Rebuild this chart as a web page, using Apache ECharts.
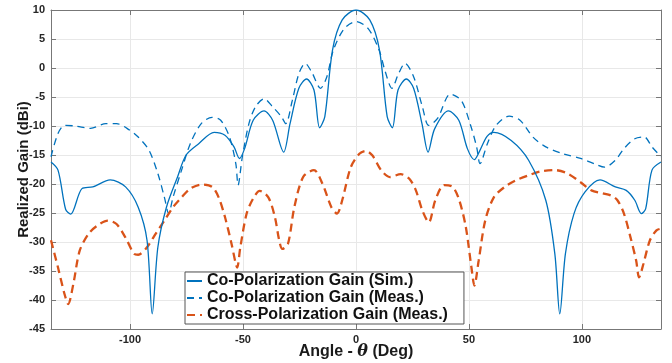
<!DOCTYPE html>
<html><head><meta charset="utf-8">
<script src="https://cdn.jsdelivr.net/npm/echarts@6/dist/echarts.min.js"></script>
<style>html,body{margin:0;padding:0;background:#fff}#c{width:672px;height:363px}</style>
</head><body><div id="c"></div>
<script>
const simAngles = [-135,-131.9,-128.5,-126.3,-121.3,-116.5,-108.8,-102,-96.4,-92.5,-90.2,-87.7,-83.9,-79,-75.2,-69.5,-62.8,-58,-54,-51.6,-49.3,-45.5,-40.7,-36.9,-32,-29.2,-25.3,-21.9,-18.6,-16.1,-13.8,-10.4,-6.1,0,6.1,10.4,13.8,16.1,18.6,22.3,25.5,29.2,31.9,34.8,40.9,45.5,49.3,52.4,54.5,58,61,68.7,76.4,84,88,90.2,92.7,96.5,101.3,108,114.8,119.6,123.4,126.3,128.2,131,135];
const simGain = [-16.2,-17.6,-24.4,-25.2,-20.8,-20.5,-19.3,-20.5,-24,-29.7,-42.4,-30.9,-24,-18.8,-15,-13,-11.1,-11.6,-13.6,-15.6,-13.9,-9,-7.4,-9,-14.5,-9.6,-3.5,-1.9,-3.8,-10.3,-8.4,3.1,8.3,10,8.3,3.1,-8.4,-10.3,-3.8,-1.9,-3.5,-9.6,-14.5,-10.5,-7.4,-9,-13.9,-15.8,-14.5,-11.8,-11.1,-12.5,-15.9,-22.8,-32,-42.4,-32,-25.1,-21.4,-19.3,-20.5,-21.1,-22.8,-25.1,-24.3,-17.6,-16.2];

const measAngles = [-135,-131.9,-129,-124.2,-117.5,-110.7,-106,-100.2,-96.4,-91.6,-87.7,-84.8,-82.9,-81,-77.2,-73.3,-68.5,-63.7,-59.9,-56,-53.2,-52.2,-50.3,-47.4,-44.5,-40.7,-36.9,-33,-31.1,-28.2,-25.3,-22.5,-19.6,-15.7,-12.9,-10,-5.2,0,5.4,10.2,13,15.9,18.8,21.7,25.5,29.4,32.2,36.1,41.8,46.6,50.5,53.4,54.9,58.2,62,67.8,72.6,78.3,84,91.7,99.4,106.1,110,114.8,118.6,123.4,127.6,131,135];
const measGain = [-15.3,-11.3,-9.9,-10,-10.4,-9.6,-9.6,-10.7,-11.9,-14.2,-18.2,-22.3,-25.1,-22.3,-17.6,-13,-9.6,-8.5,-9,-11.9,-16.5,-20.2,-15.3,-9.6,-6.7,-5.3,-6.7,-8.4,-9.6,-5.6,-1,0.8,-0.7,-3.5,-1.5,3.1,6.8,8,6.8,3.1,-0.7,-3.5,-1,0.8,-1.5,-6.7,-9.9,-8.7,-4.5,-5.6,-9.6,-13.6,-16.5,-13,-9.9,-8.3,-9,-11.9,-13.6,-14.8,-15.6,-16.6,-17.1,-15.9,-13.9,-12.2,-11.9,-13.6,-15.3];

const crossAngles = [-135,-131.9,-129,-127.4,-125.1,-122.3,-118.4,-114.6,-109.8,-106,-102.1,-98.3,-96.4,-92.5,-88.7,-84.8,-81,-77.2,-73.3,-68.5,-63.7,-60.8,-58,-55.1,-53.2,-52.6,-51.2,-48.4,-45.5,-42.6,-38.8,-35.9,-34,-32.6,-30.1,-27.3,-23.4,-18.6,-14.8,-10.9,-8.4,-6.1,-2.3,1.5,4.4,7.3,11.1,15,19.8,23.6,26.5,29.4,32.2,35.1,39,42.8,45.7,48.6,51.1,52.4,54.3,57.2,61,65.8,70.6,76.4,82.1,87.9,93.7,99.4,104.2,109,112.9,115.7,118.6,121.5,124,125.3,127.2,130.1,133,135];
const crossGain = [-29.7,-34.4,-39,-40.7,-37.2,-31.5,-28.6,-27.2,-26.3,-26.9,-29.2,-32,-32.2,-30.9,-28.6,-26.3,-24,-22.3,-20.8,-20.1,-20.5,-22.3,-25.7,-30.3,-33.8,-34.4,-30.9,-25.1,-22.5,-21.2,-22.3,-25.7,-29.7,-31.2,-30.3,-24,-18.8,-17.6,-20,-24,-25.1,-22.8,-17.1,-14.8,-14.3,-15.1,-17.6,-18.8,-18.3,-19.1,-21.1,-24.6,-26.6,-22.8,-20.2,-20.5,-22.8,-27.4,-34.4,-37.5,-33.2,-26.3,-22.3,-20.5,-19.4,-18.5,-17.8,-17.6,-18.2,-19.7,-21.1,-21.6,-22,-22.8,-25.1,-29.2,-33.2,-36.1,-33.8,-29.7,-28,-27.7];

const seriesNames = ['Co-Polarization Gain (Sim.)','Co-Polarization Gain (Meas.)','Cross-Polarization Gain (Meas.)'];

const pair = (a,b) => a.map((x,i)=>[x,b[i]]);
const FONT = '"Liberation Sans", Arial, sans-serif';
const chart = echarts.init(document.getElementById('c'));
chart.setOption({
  animation:false,
  backgroundColor:'#fff',
  grid:{left:51,right:11,top:10,bottom:34,containLabel:false,outerBoundsMode:'none'},
  xAxis:[{
    type:'value',min:-135,max:135,splitNumber:5,
    axisLabel:{showMinLabel:false,showMaxLabel:false,color:'#262626',fontWeight:'bold',fontSize:11,fontFamily:FONT,margin:5},
    axisTick:{inside:true,length:5,lineStyle:{color:'#777'}},
    axisLine:{onZero:false,lineStyle:{color:'#777',width:1}},
    splitLine:{show:true,lineStyle:{color:'#e8e8e8',width:1}},
    name:'{a|Angle - }{b|θ}{a| (Deg)}',nameLocation:'middle',nameGap:15,nameMoveOverlap:false,
    nameTextStyle:{rich:{a:{fontSize:16,fontWeight:'bold',fontFamily:FONT,color:'#1a1a1a'},b:{fontSize:16,fontWeight:'bold',fontStyle:'italic',fontFamily:'"DejaVu Serif", serif',color:'#1a1a1a'}}}
  },{
    type:'value',min:-135,max:135,splitNumber:5,position:'top',
    axisLabel:{show:false},
    axisTick:{inside:true,length:5,lineStyle:{color:'#777'}},
    axisLine:{onZero:false,lineStyle:{color:'#777',width:1}},
    splitLine:{show:false}
  }],
  yAxis:[{
    type:'value',min:-45,max:10,interval:5,
    axisLabel:{color:'#262626',fontWeight:'bold',fontSize:11,fontFamily:FONT,margin:6},
    axisTick:{inside:true,length:5,lineStyle:{color:'#777'}},
    axisLine:{onZero:false,lineStyle:{color:'#777',width:1}},
    splitLine:{show:true,lineStyle:{color:'#e8e8e8',width:1}},
    name:'Realized Gain (dBi)',nameLocation:'middle',nameGap:20,nameMoveOverlap:false,
    nameTextStyle:{fontSize:15,fontWeight:'bold',fontFamily:FONT,color:'#1a1a1a'}
  },{
    type:'value',min:-45,max:10,interval:5,position:'right',
    axisLabel:{show:false},
    axisTick:{inside:true,length:5,lineStyle:{color:'#777'}},
    axisLine:{onZero:false,lineStyle:{color:'#777',width:1}},
    splitLine:{show:false}
  }],
  legend:{
    orient:'vertical',left:185,top:272,
    backgroundColor:'#fff',borderColor:'#555',borderWidth:1,padding:[1,16,1,1],
    itemGap:1,itemWidth:15,itemHeight:16,
    itemStyle:{opacity:0},
    textStyle:{fontSize:16,fontWeight:'bold',fontFamily:FONT,color:'#111'},
    data:seriesNames
  },
  series:[
    {name:seriesNames[0],type:'line',data:pair(simAngles,simGain),symbol:'none',smooth:0.3,
      lineStyle:{color:'#0072BD',width:1.3},itemStyle:{color:'#0072BD'},z:3},
    {name:seriesNames[1],type:'line',data:pair(measAngles,measGain),symbol:'none',smooth:0.3,
      lineStyle:{color:'#0072BD',width:1.3,type:[7,5]},itemStyle:{color:'#0072BD'},z:2},
    {name:seriesNames[2],type:'line',data:pair(crossAngles,crossGain),symbol:'none',smooth:0.3,
      lineStyle:{color:'#D95319',width:2.3,type:[8,5]},itemStyle:{color:'#D95319'},z:2}
  ]
});
</script></body></html>
